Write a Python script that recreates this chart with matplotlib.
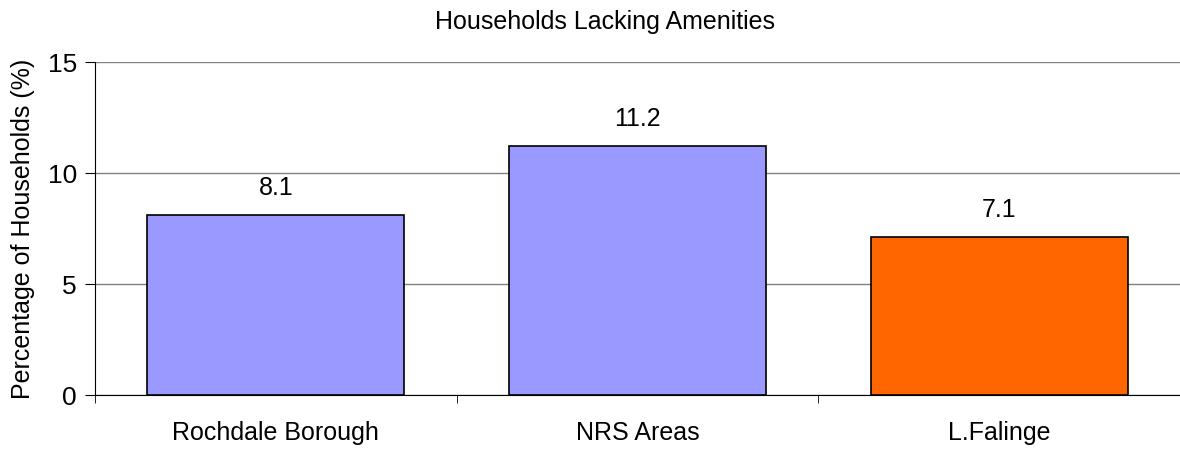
import numpy as np
import matplotlib.pyplot as plt

plt.rcParams['font.family'] = ['Liberation Sans', 'DejaVu Sans']

# data
areas = ["Rochdale Borough", "NRS Areas", "L.Falinge"]
pct = [8.1, 11.2, 7.1]
colours = ["#9999FF", "#9999FF", "#FF6600"]

fig = plt.figure(figsize=(11.8, 4.5), dpi=100)
ax = fig.add_axes([0.0805, 0.122, 0.9195, 0.74])

x = np.arange(len(areas))
bars = ax.bar(x, pct, width=0.71, color=colours, edgecolor="black", linewidth=1.2, zorder=3)

for xi, v in zip(x, pct):
    ax.text(xi, v + 0.7, f"{v}", ha="center", va="bottom", fontsize=18)

ax.set_xlim(-0.5, len(areas) - 0.5)
ax.set_ylim(0, 15)
ax.set_yticks([0, 5, 10, 15])
ax.yaxis.grid(True, color="#808080", linewidth=1, zorder=0)

ax.set_xticks(x)
ax.set_xticklabels(areas, fontsize=18)
ax.set_xticks(np.arange(-0.5, len(areas), 1.0), minor=True)
ax.tick_params(axis="x", which="major", length=0, pad=19)
ax.tick_params(axis="x", which="minor", length=6, color="black", direction="out")
ax.tick_params(axis="y", labelsize=19, length=7, direction="out", pad=6)

for s in ["top", "right"]:
    ax.spines[s].set_visible(False)
ax.spines["left"].set_color("black")
ax.spines["bottom"].set_color("black")

ax.set_ylabel("Percentage of Households (%)", fontsize=18, labelpad=9)
fig.text(0.513, 0.95, "Households Lacking Amenities", ha="center", va="center", fontsize=18)

fig.savefig("out.png", dpi=100)
